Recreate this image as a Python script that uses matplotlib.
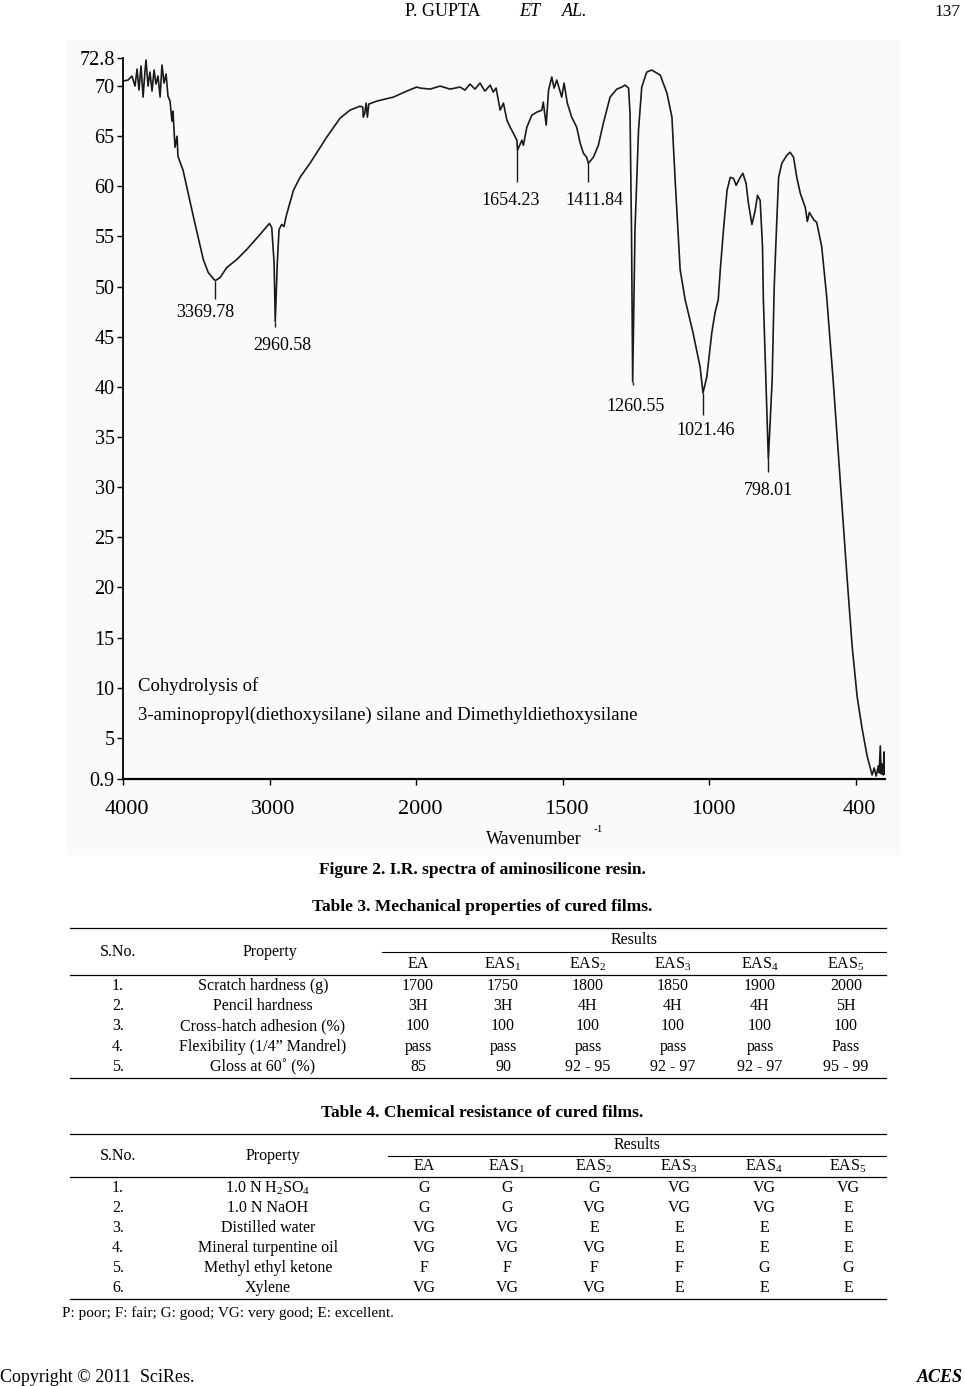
import numpy as np
import matplotlib.pyplot as plt
import matplotlib.transforms as mtransforms
from matplotlib.lines import Line2D
from matplotlib.patches import Rectangle

plt.rcParams['font.family'] = ['Liberation Serif', 'DejaVu Serif']
plt.rcParams['mathtext.fontset'] = 'custom'
plt.rcParams['mathtext.rm'] = 'Liberation Serif'
plt.rcParams['mathtext.it'] = 'Liberation Serif:italic'
plt.rcParams['mathtext.bf'] = 'Liberation Serif:bold'

# IR spectrum (wavenumber, transmittance)
wavenumber = [4000, 3966, 3939, 3918, 3904, 3891, 3877, 3863, 3850, 3843, 3829, 3816, 3802,
              3788, 3775, 3761, 3747, 3734, 3720, 3706, 3693, 3679, 3666, 3659, 3645, 3631,
              3625, 3590, 3520, 3452, 3418, 3384, 3370, 3338, 3292, 3224, 3156, 3065, 3001,
              2985, 2969, 2961, 2947, 2935, 2917, 2901, 2887, 2837, 2792, 2724, 2610, 2519,
              2451, 2382, 2364, 2360, 2350, 2341, 2332, 2323, 2268, 2155, 2064, 1998, 1986,
              1952, 1918, 1884, 1850, 1833, 1816, 1799, 1782, 1765, 1747, 1737, 1727, 1713,
              1702, 1690, 1679, 1668, 1656, 1654, 1639, 1634, 1622, 1605, 1588, 1571, 1566,
              1556, 1548, 1537, 1529, 1520, 1503, 1495, 1484, 1469, 1452, 1440, 1429, 1418,
              1412, 1395, 1378, 1361, 1338, 1315, 1298, 1287, 1275, 1270, 1265, 1261, 1256,
              1253, 1241, 1230, 1213, 1196, 1167, 1144, 1127, 1116, 1099, 1082, 1055, 1031,
              1021, 1008, 991, 980, 969, 962, 951, 939, 928, 917, 908, 894, 885, 874, 866,
              854, 843, 835, 826, 818, 815, 798, 785, 778, 770, 763, 752, 735, 724, 712, 701,
              689, 672, 665, 658, 644, 633, 616, 599, 577, 553, 529, 512, 495, 478, 461, 451,
              444, 437, 430, 423, 420, 416, 413, 410, 406, 403, 401]
transmittance = [70.5, 70.6, 71.0, 70.0, 71.7, 69.6, 72.0, 68.9, 71.5, 72.6, 70.0, 71.4, 69.5,
                 71.6, 70.2, 71.0, 68.9, 72.1, 70.3, 71.2, 69.0, 68.5, 66.5, 67.5, 63.9, 65.0,
                 63.0, 61.6, 57.0, 52.7, 51.4, 50.8, 50.6, 50.9, 51.9, 52.7, 53.7, 55.2, 56.3,
                 55.9, 52.4, 46.5, 52.4, 55.7, 56.2, 56.0, 57.0, 59.6, 60.9, 62.3, 64.9, 66.8,
                 67.6, 68.0, 67.9, 66.9, 67.3, 68.3, 66.9, 68.2, 68.5, 68.9, 69.5, 69.9, 69.8,
                 69.7, 70.0, 69.7, 69.9, 69.6, 70.2, 69.7, 70.3, 69.5, 70.1, 69.4, 69.8, 67.6,
                 68.3, 66.6, 65.9, 65.3, 64.6, 63.6, 64.6, 64.1, 65.9, 67.1, 67.4, 67.6, 68.4,
                 66.1, 69.6, 70.9, 69.8, 70.6, 68.9, 70.3, 68.3, 66.9, 65.9, 64.3, 63.3, 62.9,
                 62.3, 62.9, 64.1, 66.3, 68.9, 69.7, 69.9, 70.1, 69.8, 67.3, 55.7, 40.5, 50.0,
                 55.7, 65.6, 69.9, 71.4, 71.6, 71.1, 69.3, 66.9, 60.6, 51.7, 48.7, 45.4, 42.0,
                 39.4, 41.0, 45.4, 47.4, 48.7, 51.7, 55.7, 59.6, 60.9, 60.8, 60.1, 60.9, 61.3,
                 60.3, 58.3, 56.2, 57.6, 59.1, 58.6, 54.0, 48.7, 32.8, 40.7, 50.0, 56.0, 60.9,
                 62.3, 63.1, 63.4, 62.9, 60.9, 59.3, 57.9, 56.5, 57.4, 56.7, 56.4, 54.0, 49.0,
                 40.7, 30.8, 20.8, 14.1, 9.1, 5.9, 3.2, 2.1, 1.3, 2.0, 1.2, 2.2, 1.5, 4.2, 1.4,
                 2.4, 1.3, 3.6, 1.4]

peak_wn = [3369.78, 2960.58, 1654.23, 1411.84, 1260.55, 1021.46, 798.01]
peak_T = [50.6, 46.5, 63.6, 62.3, 40.5, 39.4, 32.8]
leader_end = [48.8, 46.0, 60.4, 60.4, 40.2, 37.2, 31.5]
label_T = [47.4, 44.1, 58.6, 58.6, 38.0, 35.7, 29.7]
label_dx = [-7, 5, -5, 4, 2, 2, 0]

y_ticks = [0.9, 5, 10, 15, 20, 25, 30, 35, 40, 45, 50, 55, 60, 65, 70, 72.8]
y_labels = ['0.9', '5', '10', '15', '20', '25', '30', '35', '40', '45', '50', '55',
            '60', '65', '70', '72.8']
x_ticks = [4000, 3000, 2000, 1500, 1000, 500]
x_labels = ['4000', '3000', '2000', '1500', '1000', '400']

samples = ['EA', 'EAS$_1$', 'EAS$_2$', 'EAS$_3$', 'EAS$_4$', 'EAS$_5$']
t3_props = ['Scratch hardness (g)', 'Pencil hardness', 'Cross-hatch adhesion (%)',
            'Flexibility (1/4\u201d Mandrel)', 'Gloss at 60\u02da (%)']
t3_vals = [['1700', '1750', '1800', '1850', '1900', '2000'],
           ['3H', '3H', '4H', '4H', '4H', '5H'],
           ['100', '100', '100', '100', '100', '100'],
           ['pass', 'pass', 'pass', 'pass', 'pass', 'Pass'],
           ['85', '90', '92 - 95', '92 - 97', '92 - 97', '95 - 99']]
t4_props = ['1.0 N H$_2$SO$_4$', '1.0 N NaOH', 'Distilled water', 'Mineral turpentine oil',
            'Methyl ethyl ketone', 'Xylene']
t4_vals = [['G', 'G', 'G', 'VG', 'VG', 'VG'],
           ['G', 'G', 'VG', 'VG', 'VG', 'E'],
           ['VG', 'VG', 'E', 'E', 'E', 'E'],
           ['VG', 'VG', 'VG', 'E', 'E', 'E'],
           ['F', 'F', 'F', 'F', 'G', 'G'],
           ['VG', 'VG', 'VG', 'E', 'E', 'E']]

W, H = 965, 1386
fig = plt.figure(figsize=(W / 100, H / 100), dpi=100)


def fx(x):
    return x / W


def fy(y):
    return 1 - y / H


def hline(y, x0, x1, lw=0.9):
    fig.add_artist(Line2D([fx(x0), fx(x1)], [fy(y), fy(y)], transform=fig.transFigure,
                          color='black', lw=lw))


# faint scan background of the figure
fig.add_artist(Rectangle((fx(65), fy(855)), fx(900) - fx(65), fy(40) - fy(855),
                         transform=fig.transFigure, facecolor='#fafafa', edgecolor='none',
                         zorder=0))

# piecewise wavenumber axis: 4000-2000 compressed, 2000-400 expanded x2
def fwd(w):
    return np.interp(w, [400, 2000, 4000], [0, 3.2, 5.2])


def inv(p):
    return np.interp(p, [0, 3.2, 5.2], [400, 2000, 4000])


ax = fig.add_axes([fx(123), fy(779), fx(885) - fx(123), fy(58) - fy(779)])
ax.patch.set_alpha(0)
ax.set_xscale('function', functions=(fwd, inv))
ax.plot(wavenumber, transmittance, color='#1a1a1a', lw=1.2)
ax.set_xlim(4000, 400)
ax.set_ylim(0.9, 72.8)
ax.set_xticks(x_ticks)
ax.set_xticklabels(x_labels)
ax.set_yticks(y_ticks)
ax.set_yticklabels(y_labels)
ax.minorticks_off()
ax.tick_params(axis='y', direction='out', length=4, width=1, pad=2, labelsize=14.5)
ax.tick_params(axis='x', direction='out', length=4, width=1, pad=11, labelsize=16)
# labels in the scan sit a little right of their ticks
shift = mtransforms.ScaledTranslation(4 / 100, 0, fig.dpi_scale_trans)
for lab in ax.get_xticklabels():
    lab.set_transform(lab.get_transform() + shift)
for s in ['top', 'right']:
    ax.spines[s].set_visible(False)
ax.spines['left'].set_linewidth(1.3)
ax.spines['bottom'].set_linewidth(1.6)

ax.vlines(peak_wn, leader_end, peak_T, color='#1a1a1a', lw=1)
for w, ly, dx in zip(peak_wn, label_T, label_dx):
    ax.annotate(f'{w:.2f}', xy=(w, ly), xytext=(dx, 0), textcoords='offset points',
                ha='center', va='center', fontsize=13)

ytr = ax.get_yaxis_transform()
ax.text(0.02, 10.2, 'Cohydrolysis of', transform=ytr, fontsize=13.5, va='center')
ax.text(0.02, 7.2, '3-aminopropyl(diethoxysilane) silane and Dimethyldiethoxysilane',
        transform=ytr, fontsize=13.5, va='center')

fig.text(fx(534), fy(840), 'Wavenumber', ha='center', va='center', fontsize=13)
fig.text(fx(598), fy(829), '-1', ha='center', va='center', fontsize=8)

# page header / footer
fig.text(fx(405), fy(12), 'P. GUPTA', va='center', fontsize=13)
fig.text(fx(519), fy(12), 'ET', va='center', fontsize=13, style='italic')
fig.text(fx(562), fy(12), 'AL.', va='center', fontsize=13, style='italic')
fig.text(fx(960), fy(12), '137', ha='right', va='center', fontsize=12.5)
fig.text(fx(0), fy(1377), 'Copyright \u00a9 2011  SciRes.', va='center', fontsize=13)
fig.text(fx(963), fy(1377), 'ACES', ha='right', va='center', fontsize=13,
         style='italic', weight='bold')

fig.text(fx(482), fy(870), 'Figure 2. I.R. spectra of aminosilicone resin.',
         ha='center', va='center', fontsize=12.5, weight='bold')

FS = 11.5


def draw_table(caption, cap_y, top, offs, step, col_x, head_x, row_x, part_x0, props, vals):
    r_off, part_off, sub_off, rule_off, row_off = offs
    fig.text(fx(482), fy(cap_y), caption, ha='center', va='center', fontsize=12.5,
             weight='bold')
    hline(top, 70, 886)
    fig.text(fx((part_x0 + 886) / 2), fy(top + r_off), 'Results', ha='center',
             va='center', fontsize=FS)
    hline(top + part_off, part_x0, 886, lw=0.8)
    for x, s in zip(col_x, samples):
        fig.text(fx(x), fy(top + sub_off), s, ha='center', va='center', fontsize=FS)
    fig.text(fx(118), fy(top + part_off), 'S.No.', ha='center', va='center', fontsize=FS)
    fig.text(fx(head_x), fy(top + part_off), 'Property', ha='center', va='center',
             fontsize=FS)
    hline(top + rule_off, 70, 886)
    y = top + row_off
    for i, (p, row) in enumerate(zip(props, vals)):
        fig.text(fx(118), fy(y), f'{i + 1}.', ha='center', va='center', fontsize=FS)
        fig.text(fx(row_x), fy(y), p, ha='center', va='center', fontsize=FS)
        for x, v in zip(col_x, row):
            fig.text(fx(x), fy(y), v, ha='center', va='center', fontsize=FS)
        y += step
    hline(y - step + 11, 70, 886)


draw_table('Table 3. Mechanical properties of cured films.', 907, 928,
           (12, 24, 36, 47, 58), 20.2,
           [418, 503, 588, 673, 760, 846], 270, 263, 382, t3_props, t3_vals)
draw_table('Table 4. Chemical resistance of cured films.', 1113, 1134,
           (11, 22, 32, 43, 54), 20.0,
           [424, 507, 594, 679, 764, 848], 273, 268, 388, t4_props, t4_vals)
fig.text(fx(62), fy(1313), 'P: poor; F: fair; G: good; VG: very good; E: excellent.',
         va='center', fontsize=11)

fig.savefig('out.png', dpi=100)
